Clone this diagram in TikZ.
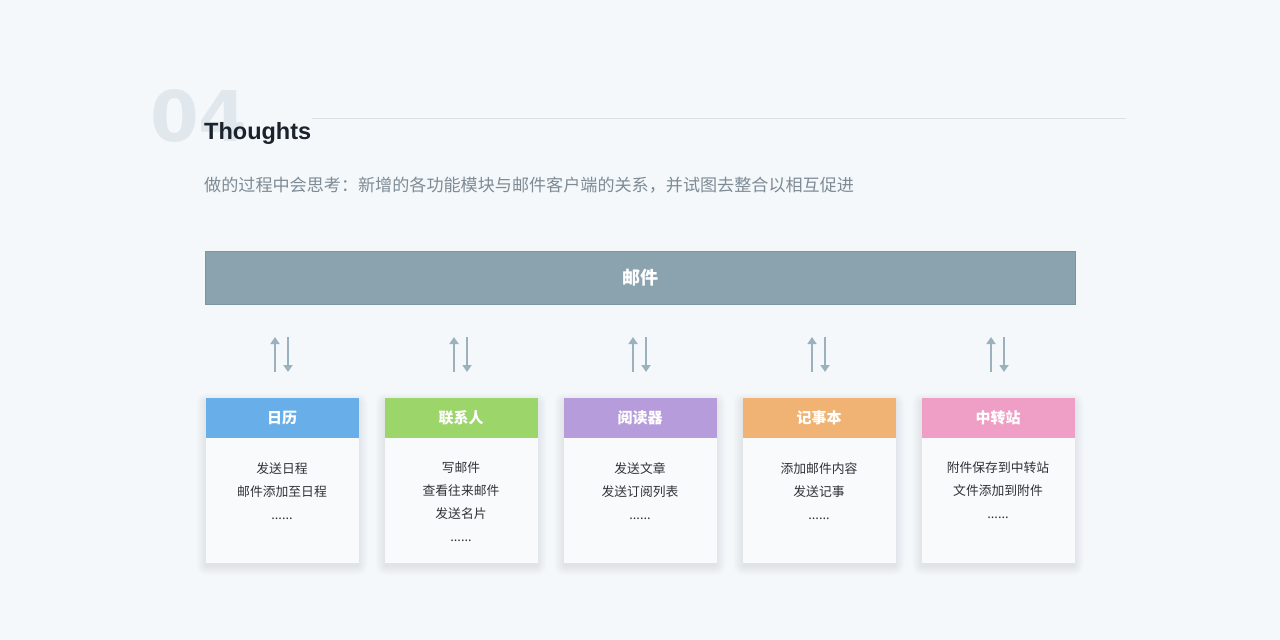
\documentclass[tikz,border=0pt]{standalone}
\usepackage{fontspec}
\setmainfont{Liberation Sans}
\newfontfamily\numfont{DejaVu Sans}
\newfontfamily\cjk{Noto Sans CJK SC}
\usetikzlibrary{arrows.meta}
\definecolor{bgc}{HTML}{F4F8FB}
\definecolor{numc}{HTML}{E0E8EE}
\definecolor{linec}{HTML}{D9E1E7}
\definecolor{titlec}{HTML}{1C222C}
\definecolor{subc}{HTML}{7E8B95}
\definecolor{barc}{HTML}{8BA3AF}
\definecolor{barb}{HTML}{7D95A1}
\definecolor{arrc}{HTML}{9BB1BE}
\definecolor{cbody}{HTML}{F9FAFC}
\definecolor{txtc}{HTML}{2E3236}
\definecolor{shc}{HTML}{8A9AA8}
\definecolor{hblue}{HTML}{68AEE8}
\definecolor{hgreen}{HTML}{9CD66A}
\definecolor{hpurple}{HTML}{B79CDB}
\definecolor{horange}{HTML}{F0B373}
\definecolor{hpink}{HTML}{EF9FC5}
\tikzset{
  cardbody/.style={fill=cbody, draw=none, minimum width=153pt, minimum height=165pt, anchor=north, inner sep=0pt},
  cardhead/.style={minimum width=153pt, minimum height=40pt, anchor=north, inner sep=0pt, text=white,
    font=\cjk\bfseries\fontsize{15}{18}\selectfont},
  cardtext/.style={anchor=north, align=center, text=txtc, font=\cjk\fontsize{12.8}{23}\selectfont, inner sep=0pt},
  biarrow/.style={draw=arrc, line width=2.4pt, -{Triangle[width=9pt,length=7pt]}},
  shadowlayer/.style={fill=shc, fill opacity=0.014, draw=none, rounded corners=\k pt},
}
\begin{document}
\begin{tikzpicture}[x=1pt,y=-1pt]
\useasboundingbox[fill=bgc] (0,0) rectangle (1280,640);
% header
\node[anchor=base west, inner sep=0pt, text=numc, font=\numfont\bfseries\fontsize{70}{70}\selectfont] (num) at (150,141) {04};
\coordinate (la) at (312,118);
\coordinate (lb) at (1126,118);
\draw[linec, line width=0.8pt] (la) -- (lb);
\node[anchor=base west, inner sep=0pt, text=titlec, font=\bfseries\fontsize{23.5}{24}\selectfont] (title) at (204,139) {Thoughts};
\node[anchor=base west, inner sep=0pt, text=subc, font=\cjk\fontsize{17.1}{18}\selectfont] (sub) at (204,191) {做的过程中会思考：新增的各功能模块与邮件客户端的关系，并试图去整合以相互促进};
% main bar
\node[fill=barc, draw=barb, line width=0.6pt, minimum width=870pt, minimum height=53pt, inner sep=0pt, text=white, font=\cjk\bfseries\fontsize{18}{20}\selectfont] (mail) at (640,277.5) {邮件};
% cards
\foreach \i/\cx/\col/\head/\body in {
  1/282/hblue/日历/{发送日程\\邮件添加至日程\\......},
  2/461/hgreen/联系人/{写邮件\\查看往来邮件\\发送名片\\......},
  3/640/hpurple/阅读器/{发送文章\\发送订阅列表\\......},
  4/819/horange/记事本/{添加邮件内容\\发送记事\\......},
  5/998/hpink/中转站/{附件保存到中转站\\文件添加到附件\\......}}{
  \foreach \k in {1,...,10}{
    \fill[shadowlayer] (\cx-76.5-\k+1,398-\k+5) rectangle (\cx+76.5+\k-1,563+\k+2);
  }
  \node[cardbody] (body\i) at (\cx,398) {};
  \node[cardhead, fill=\col] (head\i) at (\cx,398) {\head};
  \node[cardtext] (txt\i) at (\cx,462) {\body};
  \coordinate (ub\i) at (\cx-7,372);
  \coordinate (ut\i) at (\cx-7,337);
  \coordinate (dt\i) at (\cx+6,337);
  \coordinate (db\i) at (\cx+6,372);
  \draw[biarrow] (ub\i) -- (ut\i);
  \draw[biarrow] (dt\i) -- (db\i);
}
\end{tikzpicture}
\end{document}
